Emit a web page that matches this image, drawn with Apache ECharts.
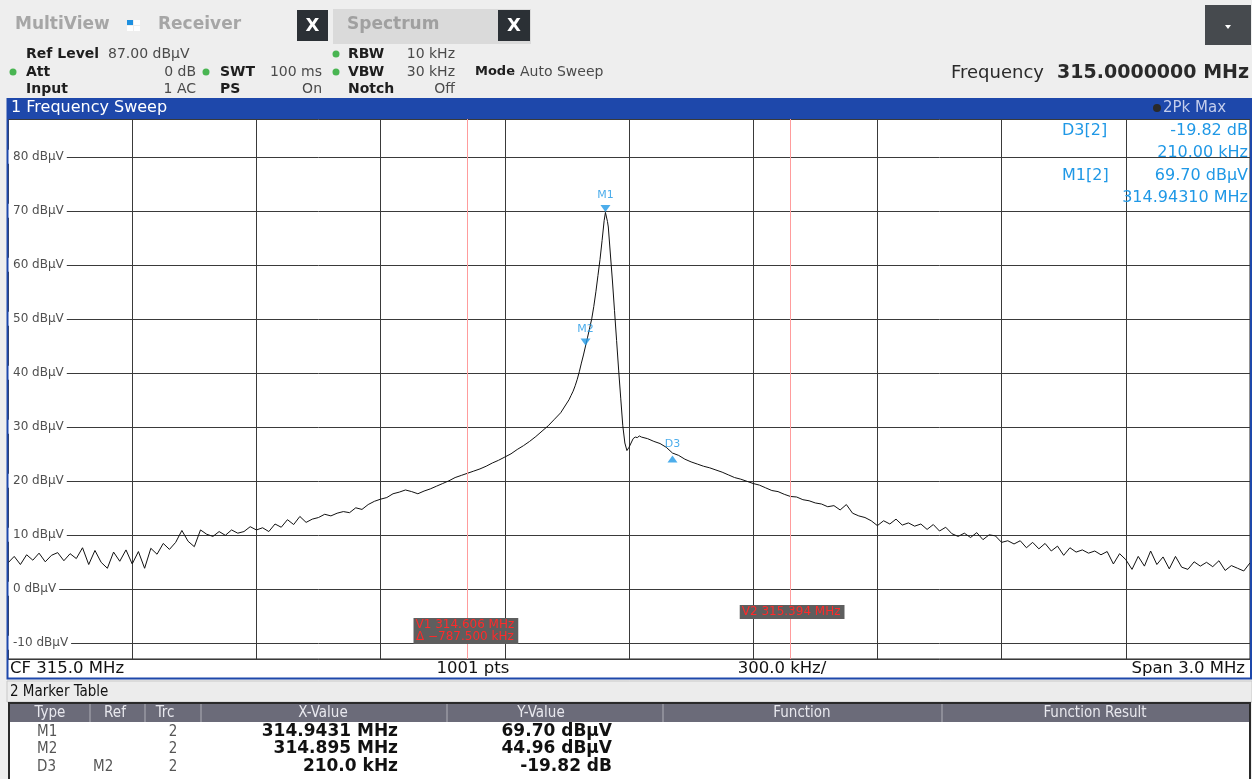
<!DOCTYPE html>
<html><head><meta charset="utf-8">
<script src="https://cdn.jsdelivr.net/npm/echarts@6/dist/echarts.min.js"></script>
<style>html,body{margin:0;padding:0;background:#eeeeee;} #c{width:1252px;height:779px;}</style>
</head><body><div id="c"></div><script>
// ---- instrument settings ----
const startMHz = 313.5, stopMHz = 316.5, divMHz = 0.3;
const refLevel = 87, bottomLevel = -13, divDb = 10;
const sweepStepMHz = 0.015;

// ---- trace (2Pk Max) ----
// low side: sweep points from 313.500 MHz every 15 kHz up to 314.850 MHz
const lowSideLevels = [
  4.8,6.0,4.5,6.3,5.3,6.6,5.0,6.2,6.7,5.2,
  6.5,5.6,7.6,4.5,7.1,4.9,3.8,6.8,5.1,7.2,
  4.6,6.9,3.8,7.5,6.4,8.4,7.3,8.6,10.8,8.8,
  7.8,10.9,10.1,9.7,10.6,9.9,10.9,10.3,10.6,11.5,
  10.9,11.3,10.6,12.0,11.4,12.8,11.9,13.4,12.3,12.9,
  13.2,13.8,13.5,14.0,14.3,14.1,15.0,14.7,15.6,16.2,
  16.6,16.9,17.6,17.9,18.3,18.0,17.6,18.1,18.5,19.0,
  19.5,20.0,20.6,21.0,21.4,21.8,22.2,22.7,23.3,23.8,
  24.4,25.0,25.8,26.5,27.3,28.2,29.2,30.2,31.4,32.6,
  34.4];
// around the carrier
const peakFreqs = [314.855,314.86,314.865,314.87,314.875,314.88,314.885,314.89,314.895,314.9,
  314.905,314.91,314.915,314.92,314.925,314.93,314.935,314.94,314.9431,314.948,
  314.95,314.955,314.96,314.965,314.97,314.975,314.98,314.985,314.99,314.995,
  315.0,315.005,315.01,315.015,315.02,315.025,315.03];
const peakLevels = [35.0,35.8,36.6,37.6,38.8,40.2,41.8,43.3,44.96,46.6,
  48.3,50.0,52.3,55.0,58.0,61.0,64.5,68.2,69.70,68.0,
  67.0,62.0,57.0,51.5,46.0,40.5,35.3,30.2,27.0,25.6,
  26.2,27.0,27.8,28.1,28.0,28.3,28.1];
// high side: sweep points from 315.045 MHz every 15 kHz up to 316.500 MHz
const highSideStartMHz = 315.045;
const highSideLevels = [
  27.8,27.3,26.9,26.2,25.14,24.7,24.0,23.5,23.1,22.7,
  22.4,22.0,21.6,21.1,20.6,20.3,19.9,19.5,19.2,18.7,
  18.2,18.0,17.5,17.1,17.0,16.5,16.3,15.9,15.7,15.2,
  15.4,14.6,15.6,14.0,13.5,13.2,12.6,11.7,12.6,12.0,
  12.9,11.8,12.2,11.6,12.0,11.0,11.9,10.7,11.4,10.2,
  9.7,10.3,9.5,10.4,9.1,10.0,9.8,8.6,8.9,8.3,
  8.9,7.6,8.6,7.4,8.4,7.0,7.9,6.2,7.6,6.8,
  7.2,6.6,7.0,6.3,6.9,4.6,6.5,5.4,3.6,6.0,
  4.2,7.0,4.5,5.9,3.7,6.0,4.0,3.6,5.0,4.2,
  4.9,4.1,5.2,3.4,4.3,3.8,3.3,4.8];

// ---- markers ----
const markerNames = ['M1','M2','D3'];
const markerFreqs = [314.9431, 314.895, 315.105];
const markerLevels = [69.70, 44.96, 25.14];
const markerIsDelta = [false, false, true];

// ---- display lines ----
const vLineNames = ['V1','V2'];
const vLineFreqs = [314.606, 315.394];
const vLineTexts = ['V1 314.606 MHz\nΔ −787.500 kHz', 'V2 315.394 MHz'];

// ---- marker table ----
const tableTypes = ['M1','M2','D3'];
const tableRefs = ['','','M2'];
const tableTrc = ['2','2','2'];
const tableX = ['314.9431 MHz','314.895 MHz','210.0 kHz'];
const tableY = ['69.70 dBµV','44.96 dBµV','-19.82 dB'];
const tableHeaders = ['Type','Ref','Trc','X-Value','Y-Value','Function','Function Result'];

// build trace
const trace = [];
lowSideLevels.forEach((v,i)=>trace.push([+(startMHz + i*sweepStepMHz).toFixed(4), v]));
peakFreqs.forEach((f,i)=>trace.push([f, peakLevels[i]]));
highSideLevels.forEach((v,i)=>trace.push([+(highSideStartMHz + i*sweepStepMHz).toFixed(4), v]));

const BLUE_M = '#1f98e6';
const FONT = '"DejaVu Sans", Verdana, sans-serif';
const COND = '"DejaVu Sans Condensed", "Liberation Sans Narrow", "DejaVu Sans", sans-serif';

const markerData = markerNames.map((n,i)=>({
  name:n, value:[markerFreqs[i], markerLevels[i]],
  symbolRotate: markerIsDelta[i] ? 0 : 180,
  symbolOffset: markerIsDelta[i] ? [0, 6] : [0, -4],
  label: markerIsDelta[i] ? {position:'top', distance: 6} : {position:'top', distance: 4}
}));

const chart = echarts.init(document.getElementById('c'), null, {renderer:'canvas'});
chart.setOption({
  animation:false,
  backgroundColor:'#eeeeee',
  grid:{left:8, right:2, top:119, bottom:120, show:true, backgroundColor:'#ffffff', borderColor:'#222', borderWidth:1, containLabel:false, outerBoundsMode:'none'},
  xAxis:{type:'value', min:startMHz, max:stopMHz, interval:divMHz,
    axisLine:{show:false}, axisTick:{show:false}, axisLabel:{show:false},
    splitLine:{show:true, lineStyle:{color:'#3a3a3a', width:1}}},
  yAxis:{type:'value', min:bottomLevel, max:refLevel, splitNumber:10, minInterval:divDb, maxInterval:divDb,
    axisLine:{show:false}, axisTick:{show:false},
    axisLabel:{inside:true, showMinLabel:false, showMaxLabel:false, margin:0, color:'#505050',
      fontSize:12, fontFamily:FONT, backgroundColor:'#ffffff', padding:[1,3,1,5],
      formatter:v=>v+' dBµV'},
    splitLine:{show:true, lineStyle:{color:'#3a3a3a', width:1}}},
  series:[
    {type:'line', name:'Trace 2', data:trace, showSymbol:false, symbol:'none', z:3,
     lineStyle:{color:'#111', width:1}, silent:true,
     markLine:{silent:true, symbol:'none', animation:false, label:{show:false},
       lineStyle:{color:'#ff9c9c', width:1, type:'solid'},
       data:vLineFreqs.map(f=>({xAxis:f}))}},
    {type:'scatter', name:'Markers', data:markerData, symbol:'triangle', symbolSize:[10,7], z:5,
     itemStyle:{color:BLUE_M},
     label:{show:true, formatter:p=>p.name, color:BLUE_M, fontSize:11, fontFamily:FONT}}
  ]
});

// ---- graphic overlay ----
function T(x,y,text,o){o=o||{};return {type:'text', x:x, y:y, z:o.z||10, silent:true,
  style:{text:text, fill:o.fill||'#222', font:o.font||('14px '+FONT), align:o.align||'left', verticalAlign:'middle',
   backgroundColor:o.bg, padding:o.pad}};}
function R(x,y,w,h,fill,stroke,lw,z){return {type:'rect', z:z||1, silent:true, shape:{x:x,y:y,width:w,height:h}, style:{fill:fill||'none', stroke:stroke||null, lineWidth:lw||1}};}
function C(cx,cy,r,fill){return {type:'circle', z:10, silent:true, shape:{cx:cx,cy:cy,r:r}, style:{fill:fill}};}

const els = [];
// tabs
els.push(T(15,25,'MultiView',{fill:'#a6a6a6', font:'bold 17px '+FONT}));
els.push(R(127,20,6,5,'#1e90e0',null,0,10), R(134,20,6,5,'#ffffff',null,0,10), R(127,26,6,5,'#ffffff',null,0,10), R(134,26,6,5,'#ffffff',null,0,10));
els.push(T(158,25,'Receiver',{fill:'#a6a6a6', font:'bold 17px '+FONT}));
els.push(R(297,10,31,31,'#2b3035',null,0,5));
els.push(T(312.5,26,'X',{fill:'#fff', font:'bold 18px '+FONT, align:'center'}));
els.push(R(333,9,198,35,'#dadada',null,0,2));
els.push(T(347,25,'Spectrum',{fill:'#a0a0a0', font:'bold 17px '+FONT}));
els.push(R(498,10,32,31,'#2b3035',null,0,5));
els.push(T(514,26,'X',{fill:'#fff', font:'bold 18px '+FONT, align:'center'}));
els.push(R(1205,5,46,40,'#464a4e',null,0,5));
els.push({type:'polygon', z:10, silent:true, shape:{points:[[1225,25],[1231,25],[1228,29]]}, style:{fill:'#fff'}});
// settings block
const lab = {font:'bold 14px '+FONT, fill:'#1e1e1e'};
const labM = {font:'bold 13px '+FONT, fill:'#1e1e1e'};
const val = {font:'14px '+FONT, fill:'#4a4a4a'};
const valR = {font:'14px '+FONT, fill:'#4a4a4a', align:'right'};
const green = '#49b552';
els.push(T(26,54,'Ref Level',lab), T(108,54,'87.00 dBµV',val));
els.push(C(13,72,3.5,green), T(26,72,'Att',lab), T(196,72,'0 dB',valR));
els.push(T(26,89,'Input',lab), T(196,89,'1 AC',valR));
els.push(C(206,72,3.5,green), T(220,72,'SWT',lab), T(322,72,'100 ms',valR));
els.push(T(220,89,'PS',lab), T(322,89,'On',valR));
els.push(C(336,54,3.5,green), T(348,54,'RBW',lab), T(455,54,'10 kHz',valR));
els.push(C(336,72,3.5,green), T(348,72,'VBW',lab), T(455,72,'30 kHz',valR));
els.push(T(348,89,'Notch',lab), T(455,89,'Off',valR));
els.push(T(475,72,'Mode',labM), T(520,72,'Auto Sweep',val));
els.push(T(951,73,'Frequency',{font:'18px '+FONT, fill:'#2a2a2a'}));
els.push(T(1249,73,'315.0000000 MHz',{font:'bold 19px '+FONT, fill:'#2a2a2a', align:'right'}));
// window title bar
els.push(R(7,98,1245,21,'#1e48ab',null,0,2));
els.push(T(11,108,'1 Frequency Sweep',{fill:'#ffffff', font:'16px '+FONT}));
els.push(C(1157,108,4,'#2a2a2a'));
els.push(T(1163,108,'2Pk Max',{fill:'#c4cdec', font:'15px '+FONT}));
// bottom info row
els.push(R(8,660,1243,18,'#ffffff',null,0,2));
els.push(T(10,669,'CF 315.0 MHz',{font:'16.5px '+FONT, fill:'#111'}));
els.push(T(473,669,'1001 pts',{font:'16.5px '+FONT, fill:'#111', align:'center'}));
els.push(T(782,669,'300.0 kHz/',{font:'16.5px '+FONT, fill:'#111', align:'center'}));
els.push(T(1245,669,'Span 3.0 MHz',{font:'16.5px '+FONT, fill:'#111', align:'right'}));
// window frame
els.push({type:'polyline', z:20, silent:true, shape:{points:[[7.5,98],[7.5,678.5],[1251,678.5],[1251,98]]}, style:{stroke:'#1e48ab', lineWidth:2, fill:null}});
// marker info (top right of diagram)
const mi = {font:'16px '+FONT, fill:BLUE_M, z:30};
const miR = {font:'16px '+FONT, fill:BLUE_M, align:'right', z:30};
els.push(T(1062,131,'D3[2]',mi), T(1248,131,'-19.82 dB',miR), T(1248,153,'210.00 kHz',miR));
els.push(T(1062,176,'M1[2]',mi), T(1248,176,'69.70 dBµV',miR), T(1248,198,'314.94310 MHz',miR));
// marker table
els.push(R(7,681,1245,21,'#ececec','#c8c8c8',1,2));
els.push(T(10,692,'2 Marker Table',{font:'15px '+COND, fill:'#111'}));
els.push(R(9,703,1241,78,'#ffffff','#2a2a2a',2,2));
els.push(R(10,704,1239,18,'#6b6b79',null,0,3));
const colSeps = [90,145,201,447,663,942];
colSeps.forEach(x=>els.push({type:'line', z:4, silent:true, shape:{x1:x,y1:704,x2:x,y2:722}, style:{stroke:'#b0b0b8', lineWidth:1}}));
const headCenters = [50,115,165,323,541,802,1095];
tableHeaders.forEach((h,i)=>els.push(T(headCenters[i],713,h,{font:'15px '+COND, fill:'#e8e8ee', align:'center'})));
const rowY = [732,749,767];
tableTypes.forEach((t,i)=>{
  els.push(T(37,rowY[i],t,{font:'15px '+COND, fill:'#555'}));
  if (tableRefs[i]) els.push(T(93,rowY[i],tableRefs[i],{font:'15px '+COND, fill:'#555'}));
  els.push(T(173,rowY[i],tableTrc[i],{font:'15px '+COND, fill:'#555', align:'center'}));
  els.push(T(398,rowY[i],tableX[i],{font:'bold 17px '+FONT, fill:'#111', align:'right'}));
  els.push(T(612,rowY[i],tableY[i],{font:'bold 17px '+FONT, fill:'#111', align:'right'}));
});
// V line labels positioned through the x scale
const vLabelLevels = [-7.8, -4.3];
vLineFreqs.forEach((f,i)=>{
  const p = chart.convertToPixel({gridIndex:0},[f, vLabelLevels[i]]);
  els.push(T(p[0],p[1],vLineTexts[i],{font:'12px '+FONT, fill:'#ff2a2a', align:'center', bg:'#5e5e5e', pad:[1,4,1,2], z:25}));
});
chart.setOption({graphic:{elements:els}});
</script></body></html>
